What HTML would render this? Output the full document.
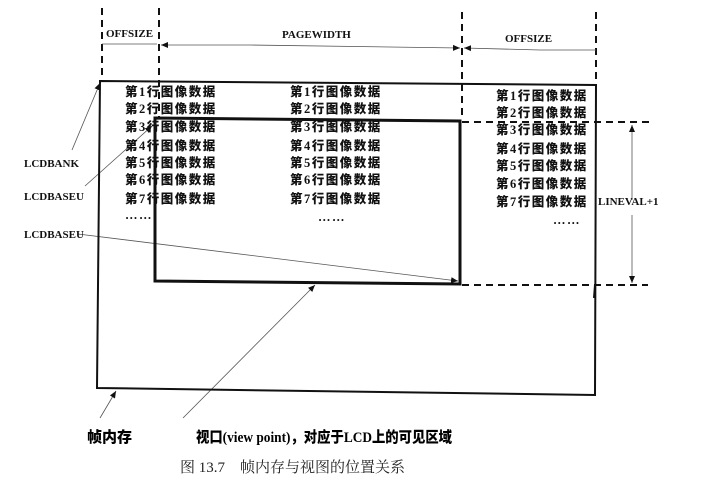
<!DOCTYPE html>
<html><head><meta charset="utf-8"><style>
body{margin:0;background:#fff;width:714px;height:486px;overflow:hidden}
svg{display:block}
.t{font-family:"Liberation Serif","Noto Sans CJK SC",sans-serif;font-weight:900;font-size:12.5px;letter-spacing:1.5px;fill:#111}
.l{font-family:"Liberation Serif",serif;font-weight:bold;font-size:11px;fill:#111}
</style></head><body>
<svg width="714" height="486" viewBox="0 0 714 486">
<defs><marker id="a" markerWidth="8" markerHeight="8" refX="7" refY="4" orient="auto" markerUnits="userSpaceOnUse"><path d="M0,1 L7,4 L0,7z" fill="#111"/></marker></defs>
<g stroke="#111" stroke-width="2" stroke-dasharray="7,5" fill="none">
<line x1="102" y1="8" x2="102" y2="82"/>
<line x1="159" y1="8" x2="159" y2="118"/>
<line x1="462" y1="12" x2="462" y2="120"/>
<line x1="596" y1="12" x2="596" y2="84"/>
<line x1="462" y1="122" x2="652" y2="122"/>
<line x1="462" y1="285" x2="648" y2="285"/>
</g>
<line x1="595" y1="285" x2="594" y2="298" stroke="#111" stroke-width="2"/>
<g stroke="#555" stroke-width="0.8" fill="none">
<line x1="102" y1="44" x2="157" y2="44"/>
<line x1="250" y1="45" x2="161" y2="45" marker-end="url(#a)"/>
<line x1="250" y1="45" x2="460" y2="48" marker-end="url(#a)"/>
<line x1="540" y1="50" x2="464" y2="48" marker-end="url(#a)"/>
<line x1="540" y1="50" x2="596" y2="50"/>
<line x1="632" y1="200" x2="632" y2="125" marker-end="url(#a)"/>
<line x1="632" y1="215" x2="632" y2="283" marker-end="url(#a)"/>
<line x1="72" y1="150" x2="100" y2="83" marker-end="url(#a)"/>
<line x1="85" y1="186" x2="152" y2="126" marker-end="url(#a)"/>
<line x1="78" y1="234" x2="458" y2="281" marker-end="url(#a)"/>
<line x1="100" y1="418" x2="116" y2="391" marker-end="url(#a)"/>
<line x1="183" y1="418" x2="315" y2="285" marker-end="url(#a)"/>
</g>
<polygon points="100,81 596,85 595,395 97,388" fill="none" stroke="#111" stroke-width="2"/>
<polygon points="155,118 460,121 460,284 155,281" fill="none" stroke="#111" stroke-width="3"/>
<text class="l" x="106" y="37">OFFSIZE</text>
<text class="l" x="282" y="38">PAGEWIDTH</text>
<text class="l" x="505" y="42">OFFSIZE</text>
<text class="l" x="598" y="205">LINEVAL+1</text>
<text class="l" x="24" y="167">LCDBANK</text>
<text class="l" x="24" y="200">LCDBASEU</text>
<text class="l" x="24" y="238">LCDBASEU</text>
<g class="t">
<text x="125" y="96">第1行图像数据</text><text x="125" y="113">第2行图像数据</text><text x="125" y="131">第3行图像数据</text><text x="125" y="150">第4行图像数据</text><text x="125" y="167">第5行图像数据</text><text x="125" y="184">第6行图像数据</text><text x="125" y="203">第7行图像数据</text><text x="125" y="219">……</text>
<text x="290" y="96">第1行图像数据</text><text x="290" y="113">第2行图像数据</text><text x="290" y="131">第3行图像数据</text><text x="290" y="150">第4行图像数据</text><text x="290" y="167">第5行图像数据</text><text x="290" y="184">第6行图像数据</text><text x="290" y="203">第7行图像数据</text><text x="318" y="221">……</text>
<text x="496" y="100">第1行图像数据</text><text x="496" y="117">第2行图像数据</text><text x="496" y="134">第3行图像数据</text><text x="496" y="153">第4行图像数据</text><text x="496" y="170">第5行图像数据</text><text x="496" y="188">第6行图像数据</text><text x="496" y="206">第7行图像数据</text><text x="553" y="224">……</text>
</g>
<text x="87" y="442" style="font-family:'Liberation Serif','Noto Sans CJK SC',sans-serif;font-weight:900;font-size:15px">帧内存</text>
<text x="196" y="442" textLength="256" lengthAdjust="spacingAndGlyphs" style="font-family:'Liberation Serif','Noto Sans CJK SC',sans-serif;font-weight:900;font-size:15px">视口(view point)，对应于LCD上的可见区域</text>
<text x="180" y="472" style="font-family:'Liberation Serif','Noto Serif CJK SC',serif;font-size:15px;fill:#222">图 13.7　帧内存与视图的位置关系</text>
</svg>
</body></html>
